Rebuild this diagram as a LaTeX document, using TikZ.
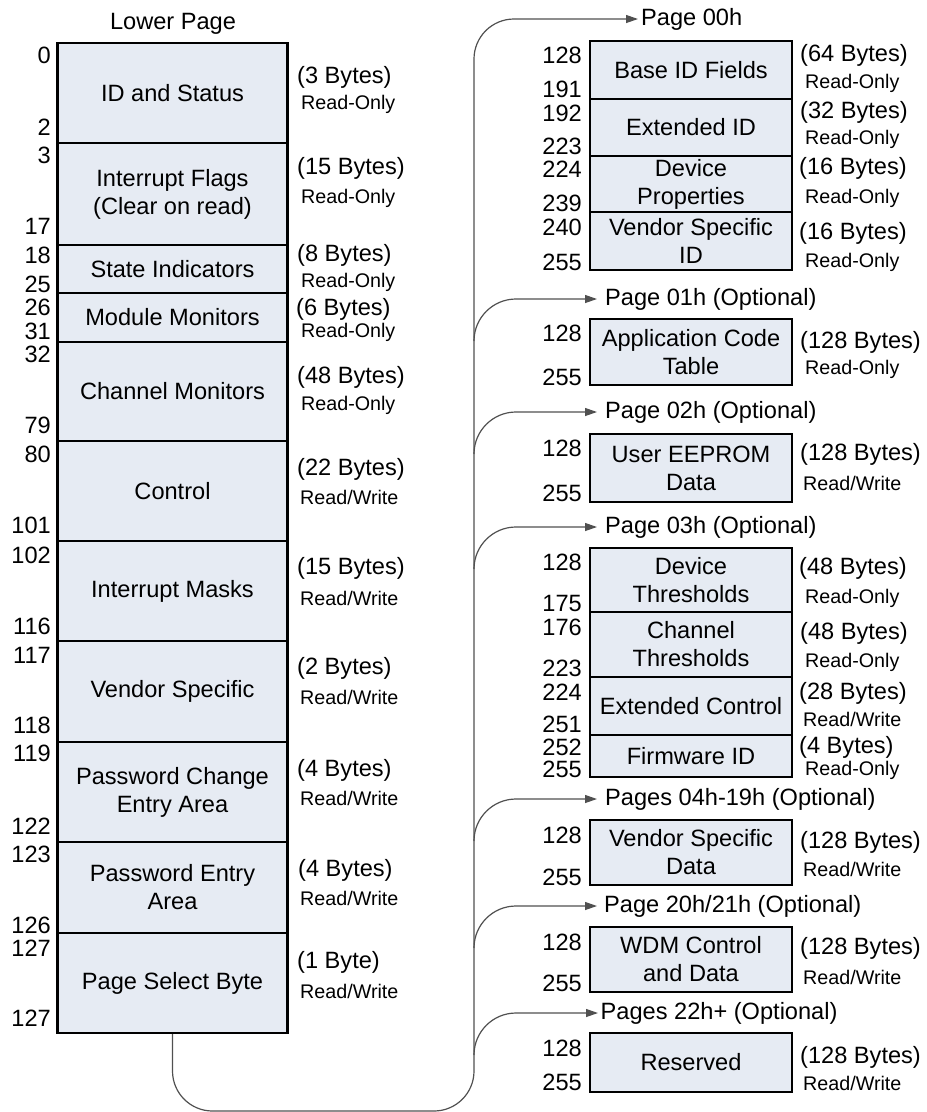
\documentclass[tikz,border=0pt]{standalone}
\usepackage{fontspec}
\setmainfont{Liberation Sans}
\usetikzlibrary{arrows.meta}
\definecolor{cellfill}{HTML}{E6EBF3}
\definecolor{conncol}{HTML}{505050}
\newcommand\bigf{\fontsize{23.6}{28}\selectfont}
\newcommand\smlf{\fontsize{19.7}{22}\selectfont}
\tikzset{
  cellL/.style={draw=black, line width=2.2pt, fill=cellfill, inner sep=0pt, align=center, font=\bigf, minimum width=230pt},
  cellR/.style={draw=black, line width=2.2pt, fill=cellfill, inner sep=0pt, align=center, font=\bigf, minimum width=202pt},
  num/.style={anchor=east, inner sep=0pt, font=\bigf},
  bytes/.style={anchor=west, inner sep=0pt, font=\bigf},
  rw/.style={anchor=west, inner sep=0pt, font=\smlf},
  hdr/.style={anchor=west, inner ysep=0pt, font=\bigf},
  conn/.style={draw=conncol, line width=1.2pt},
  arr/.style={-{Triangle[length=12pt,width=8pt]}}
}
\begin{document}
\begin{tikzpicture}[x=1pt,y=-1pt]
\useasboundingbox (0,0) rectangle (927,1112);
% ---------- Lower page ----------
\node[font=\bigf, inner sep=0pt] (lp) at (173,24) {Lower Page};
\node[cellL, minimum height=100pt] (l1) at (172.5,93) {ID and Status};
\node[cellL, minimum height=102pt] (l2) at (172.5,194) {Interrupt Flags\\(Clear on read)};
\node[cellL, minimum height=48pt] (l3) at (172.5,269) {State Indicators};
\node[cellL, minimum height=49pt] (l4) at (172.5,317.5) {Module Monitors};
\node[cellL, minimum height=99pt] (l5) at (172.5,391.5) {Channel Monitors};
\node[cellL, minimum height=100pt] (l6) at (172.5,491) {Control};
\node[cellL, minimum height=100pt] (l7) at (172.5,591) {Interrupt Masks};
\node[cellL, minimum height=101pt] (l8) at (172.5,691.5) {Vendor Specific};
\node[cellL, minimum height=100pt] (l9) at (172.5,792) {Password Change\\Entry Area};
\node[cellL, minimum height=91pt] (l10) at (172.5,887.5) {Password Entry\\Area};
\node[cellL, minimum height=100pt] (l11) at (172.5,983) {Page Select Byte};
% left numbers
\node[num] (nl1a) at (51,55) {0};     \node[num] (nl1b) at (51,127) {2};
\node[num] (nl2a) at (51,155) {3};    \node[num] (nl2b) at (51,226) {17};
\node[num] (nl3a) at (51,255) {18};   \node[num] (nl3b) at (51,284) {25};
\node[num] (nl4a) at (51,307) {26};   \node[num] (nl4b) at (51,331) {31};
\node[num] (nl5a) at (51,354) {32};   \node[num] (nl5b) at (51,425) {79};
\node[num] (nl6a) at (51,454) {80};   \node[num] (nl6b) at (51,525) {101};
\node[num] (nl7a) at (51,555) {102};  \node[num] (nl7b) at (51,626) {116};
\node[num] (nl8a) at (51,655) {117};  \node[num] (nl8b) at (51,725) {118};
\node[num] (nl9a) at (51,753) {119};  \node[num] (nl9b) at (51,826) {122};
\node[num] (nl10a) at (51,854) {123}; \node[num] (nl10b) at (51,925) {126};
\node[num] (nl11a) at (51,948) {127}; \node[num] (nl11b) at (51,1018) {127};
% left byte counts
\node[bytes] (bl1) at (297,77) {(3 Bytes)};    \node[rw] (wl1) at (301,104) {Read-Only};
\node[bytes] (bl2) at (297,168) {(15 Bytes)};  \node[rw] (wl2) at (301,198) {Read-Only};
\node[bytes] (bl3) at (297,255) {(8 Bytes)};   \node[rw] (wl3) at (301,282) {Read-Only};
\node[bytes] (bl4) at (296,309) {(6 Bytes)};   \node[rw] (wl4) at (301,332) {Read-Only};
\node[bytes] (bl5) at (297,377) {(48 Bytes)};  \node[rw] (wl5) at (301,405) {Read-Only};
\node[bytes] (bl6) at (297,469) {(22 Bytes)};  \node[rw] (wl6) at (300,497) {Read/Write};
\node[bytes] (bl7) at (297,568) {(15 Bytes)};  \node[rw] (wl7) at (300,598) {Read/Write};
\node[bytes] (bl8) at (297,668) {(2 Bytes)};   \node[rw] (wl8) at (300,697) {Read/Write};
\node[bytes] (bl9) at (297,770) {(4 Bytes)};   \node[rw] (wl9) at (300,798) {Read/Write};
\node[bytes] (bl10) at (298,870) {(4 Bytes)};  \node[rw] (wl10) at (300,898) {Read/Write};
\node[bytes] (bl11) at (297,962) {(1 Byte)};   \node[rw] (wl11) at (300,991) {Read/Write};
% ---------- Upper pages ----------
\node[cellR, minimum height=58pt] (r1) at (691,70) {Base ID Fields};
\node[cellR, minimum height=57pt] (r2) at (691,127.5) {Extended ID};
\node[cellR, minimum height=56pt] (r3) at (691,184) {Device\\Properties};
\node[cellR, minimum height=58pt] (r4) at (691,241) {Vendor Specific\\ID};
\node[cellR, minimum height=66pt] (r5) at (691,352) {Application Code\\Table};
\node[cellR, minimum height=68pt] (r6) at (691,468) {User EEPROM\\Data};
\node[cellR, minimum height=64pt] (r7) at (691,580) {Device\\Thresholds};
\node[cellR, minimum height=65pt] (r8) at (691,644.5) {Channel\\Thresholds};
\node[cellR, minimum height=58pt] (r9) at (691,706) {Extended Control};
\node[cellR, minimum height=42pt] (r10) at (691,756) {Firmware ID};
\node[cellR, minimum height=65pt] (r11) at (691,852.5) {Vendor Specific\\Data};
\node[cellR, minimum height=65pt] (r12) at (691,959.5) {WDM Control\\and Data};
\node[cellR, minimum height=59pt] (r13) at (691,1062.5) {Reserved};
% right numbers
\node[num] (nr1a) at (582,55) {128};   \node[num] (nr1b) at (582,89) {191};
\node[num] (nr2a) at (582,113) {192};  \node[num] (nr2b) at (582,146) {223};
\node[num] (nr3a) at (582,169) {224};  \node[num] (nr3b) at (582,203) {239};
\node[num] (nr4a) at (582,227) {240};  \node[num] (nr4b) at (582,262) {255};
\node[num] (nr5a) at (582,333) {128};  \node[num] (nr5b) at (582,377) {255};
\node[num] (nr6a) at (582,448) {128};  \node[num] (nr6b) at (582,493) {255};
\node[num] (nr7a) at (582,562) {128};  \node[num] (nr7b) at (582,603) {175};
\node[num] (nr8a) at (582,627) {176};  \node[num] (nr8b) at (582,668) {223};
\node[num] (nr9a) at (582,692) {224};  \node[num] (nr9b) at (582,724) {251};
\node[num] (nr10a) at (582,747) {252}; \node[num] (nr10b) at (582,769) {255};
\node[num] (nr11a) at (582,835) {128}; \node[num] (nr11b) at (582,877) {255};
\node[num] (nr12a) at (582,942) {128}; \node[num] (nr12b) at (582,983) {255};
\node[num] (nr13a) at (582,1048) {128};\node[num] (nr13b) at (582,1082) {255};
% right byte counts
\node[bytes] (br1) at (800,55) {(64 Bytes)};    \node[rw] (wr1) at (805,83) {Read-Only};
\node[bytes] (br2) at (800,112) {(32 Bytes)};   \node[rw] (wr2) at (805,139) {Read-Only};
\node[bytes] (br3) at (799,168) {(16 Bytes)};   \node[rw] (wr3) at (805,198) {Read-Only};
\node[bytes] (br4) at (799,233) {(16 Bytes)};   \node[rw] (wr4) at (805,262) {Read-Only};
\node[bytes] (br5) at (800,342) {(128 Bytes)};  \node[rw] (wr5) at (805,369) {Read-Only};
\node[bytes] (br6) at (800,454) {(128 Bytes)};  \node[rw] (wr6) at (803,483) {Read/Write};
\node[bytes] (br7) at (799,568) {(48 Bytes)};   \node[rw] (wr7) at (805,598) {Read-Only};
\node[bytes] (br8) at (800,633) {(48 Bytes)};   \node[rw] (wr8) at (805,662) {Read-Only};
\node[bytes] (br9) at (799,693) {(28 Bytes)};   \node[rw] (wr9) at (803,719) {Read/Write};
\node[bytes] (br10) at (799,747) {(4 Bytes)};   \node[rw] (wr10) at (805,770) {Read-Only};
\node[bytes] (br11) at (800,842) {(128 Bytes)}; \node[rw] (wr11) at (803,869) {Read/Write};
\node[bytes] (br12) at (800,948) {(128 Bytes)}; \node[rw] (wr12) at (803,977) {Read/Write};
\node[bytes] (br13) at (800,1057) {(128 Bytes)};\node[rw] (wr13) at (803,1083) {Read/Write};
% page headers (west anchor = arrow tip)
\node[hdr, inner xsep=3pt] (h0) at (638,19) {Page 00h};
\node[hdr, inner xsep=8pt] (h1) at (597,299) {Page 01h (Optional)};
\node[hdr, inner xsep=8pt] (h2) at (597,412) {Page 02h (Optional)};
\node[hdr, inner xsep=8pt] (h3) at (597,527) {Page 03h (Optional)};
\node[hdr, inner xsep=8pt] (h4) at (597,799) {Pages 04h-19h (Optional)};
\node[hdr, inner xsep=7pt] (h5) at (597,906) {Page 20h/21h (Optional)};
\node[hdr, inner xsep=2.5pt] (h6) at (598,1013) {Pages 22h+ (Optional)};
% ---------- connectors ----------
\coordinate (c1) at (172.5,1111);
\coordinate (c2) at (474,1111);
\coordinate (c3) at (474,19);
\draw[conn, arr, rounded corners=40pt] (l11.south) -- (c1) -- (c2) -- (c3) -- (h0.west);
\coordinate (b1) at (474,341);
\coordinate (b2) at (474,454);
\coordinate (b3) at (474,569);
\coordinate (b4) at (474,841);
\coordinate (b5) at (474,948);
\coordinate (b6) at (474,1055);
\foreach \k in {1,...,6}{
  \draw[conn, arr, rounded corners=42pt] (b\k) |- (h\k.west);
}
\end{tikzpicture}
\end{document}
